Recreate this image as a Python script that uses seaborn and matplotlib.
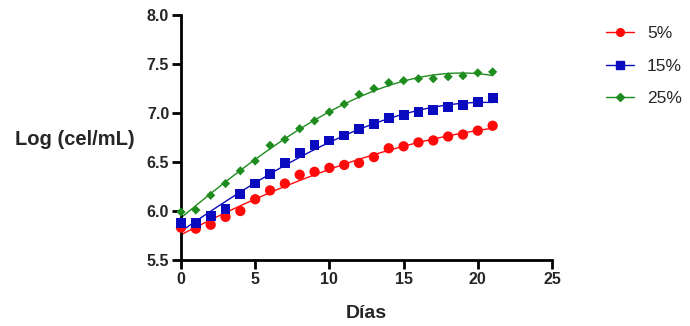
import numpy as np
import pandas as pd
import matplotlib
matplotlib.use("Agg")
import matplotlib.pyplot as plt
from matplotlib.lines import Line2D
import seaborn as sns

# Datos
dias = list(range(22))
rojo_5 = [5.83, 5.82, 5.86, 5.94, 6.00, 6.12, 6.21, 6.28, 6.37, 6.40, 6.44,
          6.47, 6.49, 6.55, 6.64, 6.66, 6.70, 6.72, 6.76, 6.78, 6.82, 6.87]
azul_15 = [5.88, 5.88, 5.95, 6.02, 6.17, 6.28, 6.38, 6.49, 6.59, 6.67, 6.72,
           6.77, 6.84, 6.89, 6.95, 6.98, 7.01, 7.03, 7.06, 7.08, 7.11, 7.15]
verde_25 = [5.99, 6.01, 6.16, 6.28, 6.41, 6.51, 6.67, 6.73, 6.84, 6.92, 7.01,
            7.09, 7.19, 7.25, 7.31, 7.33, 7.35, 7.35, 7.37, 7.38, 7.41, 7.42]
series = ["5%", "15%", "25%"]
colores = {"5%": "#FF0A0A", "15%": "#0A0ABE", "25%": "#1E8C1E"}
marcadores = {"5%": "o", "15%": "s", "25%": "D"}
tamanos = {"5%": 55, "15%": 50, "25%": 22}

df = pd.DataFrame({
    "Dias": dias * 3,
    "Log": rojo_5 + azul_15 + verde_25,
    "Serie": ["5%"] * 22 + ["15%"] * 22 + ["25%"] * 22,
})

# curva ajustada (polinomio grado 3) para cada serie
xs = np.linspace(0, 21, 200)
filas = []
for s in series:
    sub = df[df["Serie"] == s]
    coef = np.polyfit(sub["Dias"], sub["Log"], 3)
    filas.append(pd.DataFrame({"Dias": xs, "Log": np.polyval(coef, xs), "Serie": s}))
ajuste = pd.concat(filas)

sns.set_style("white")
plt.rcParams['font.family'] = ['Liberation Sans', 'DejaVu Sans']

fig = plt.figure(figsize=(6.9, 3.26), dpi=100)
ax = fig.add_axes([181 / 690, 66 / 326, 371 / 690, 245 / 326])

sns.lineplot(data=ajuste, x="Dias", y="Log", hue="Serie", palette=colores,
             linewidth=1.0, legend=False, ax=ax)
for s in series:
    sub = df[df["Serie"] == s]
    sns.scatterplot(x=sub["Dias"], y=sub["Log"], color=colores[s], marker=marcadores[s],
                    s=tamanos[s], edgecolor="none", ax=ax, clip_on=False, zorder=3)

ax.set_xlim(0, 25)
ax.set_ylim(5.5, 8.0)
ax.set_xticks([0, 5, 10, 15, 20, 25])
ax.set_yticks([5.5, 6.0, 6.5, 7.0, 7.5, 8.0])
ax.set_yticklabels(["5.5", "6.0", "6.5", "7.0", "7.5", "8.0"])
for sp in ["top", "right"]:
    ax.spines[sp].set_visible(False)
for sp in ["left", "bottom"]:
    ax.spines[sp].set_linewidth(2)
    ax.spines[sp].set_color("black")
ax.tick_params(axis="both", direction="out", length=6.5, width=2, color="black",
               labelsize=11.5, pad=2, left=True, bottom=True)
for lab in ax.get_xticklabels() + ax.get_yticklabels():
    lab.set_fontweight("bold")

ax.set_xlabel("Días", fontsize=14, fontweight="bold", labelpad=13)
ax.set_ylabel("Log (cel/mL)", fontsize=14.5, fontweight="bold", rotation=0,
              ha="center", va="center")
ax.yaxis.set_label_coords(-0.287, 0.49)

handles = [Line2D([0], [0], color=colores[s], marker=marcadores[s], lw=1.0,
                  markersize=5.5 if s != "25%" else 4) for s in series]
fig.legend(handles, series, loc="upper left", bbox_to_anchor=(606 / 690, 1 - 26 / 326),
           frameon=False, fontsize=12.5, handlelength=1.6, labelspacing=1.0,
           handletextpad=0.75, borderpad=0, borderaxespad=0)

fig.savefig("out.png", dpi=100)
